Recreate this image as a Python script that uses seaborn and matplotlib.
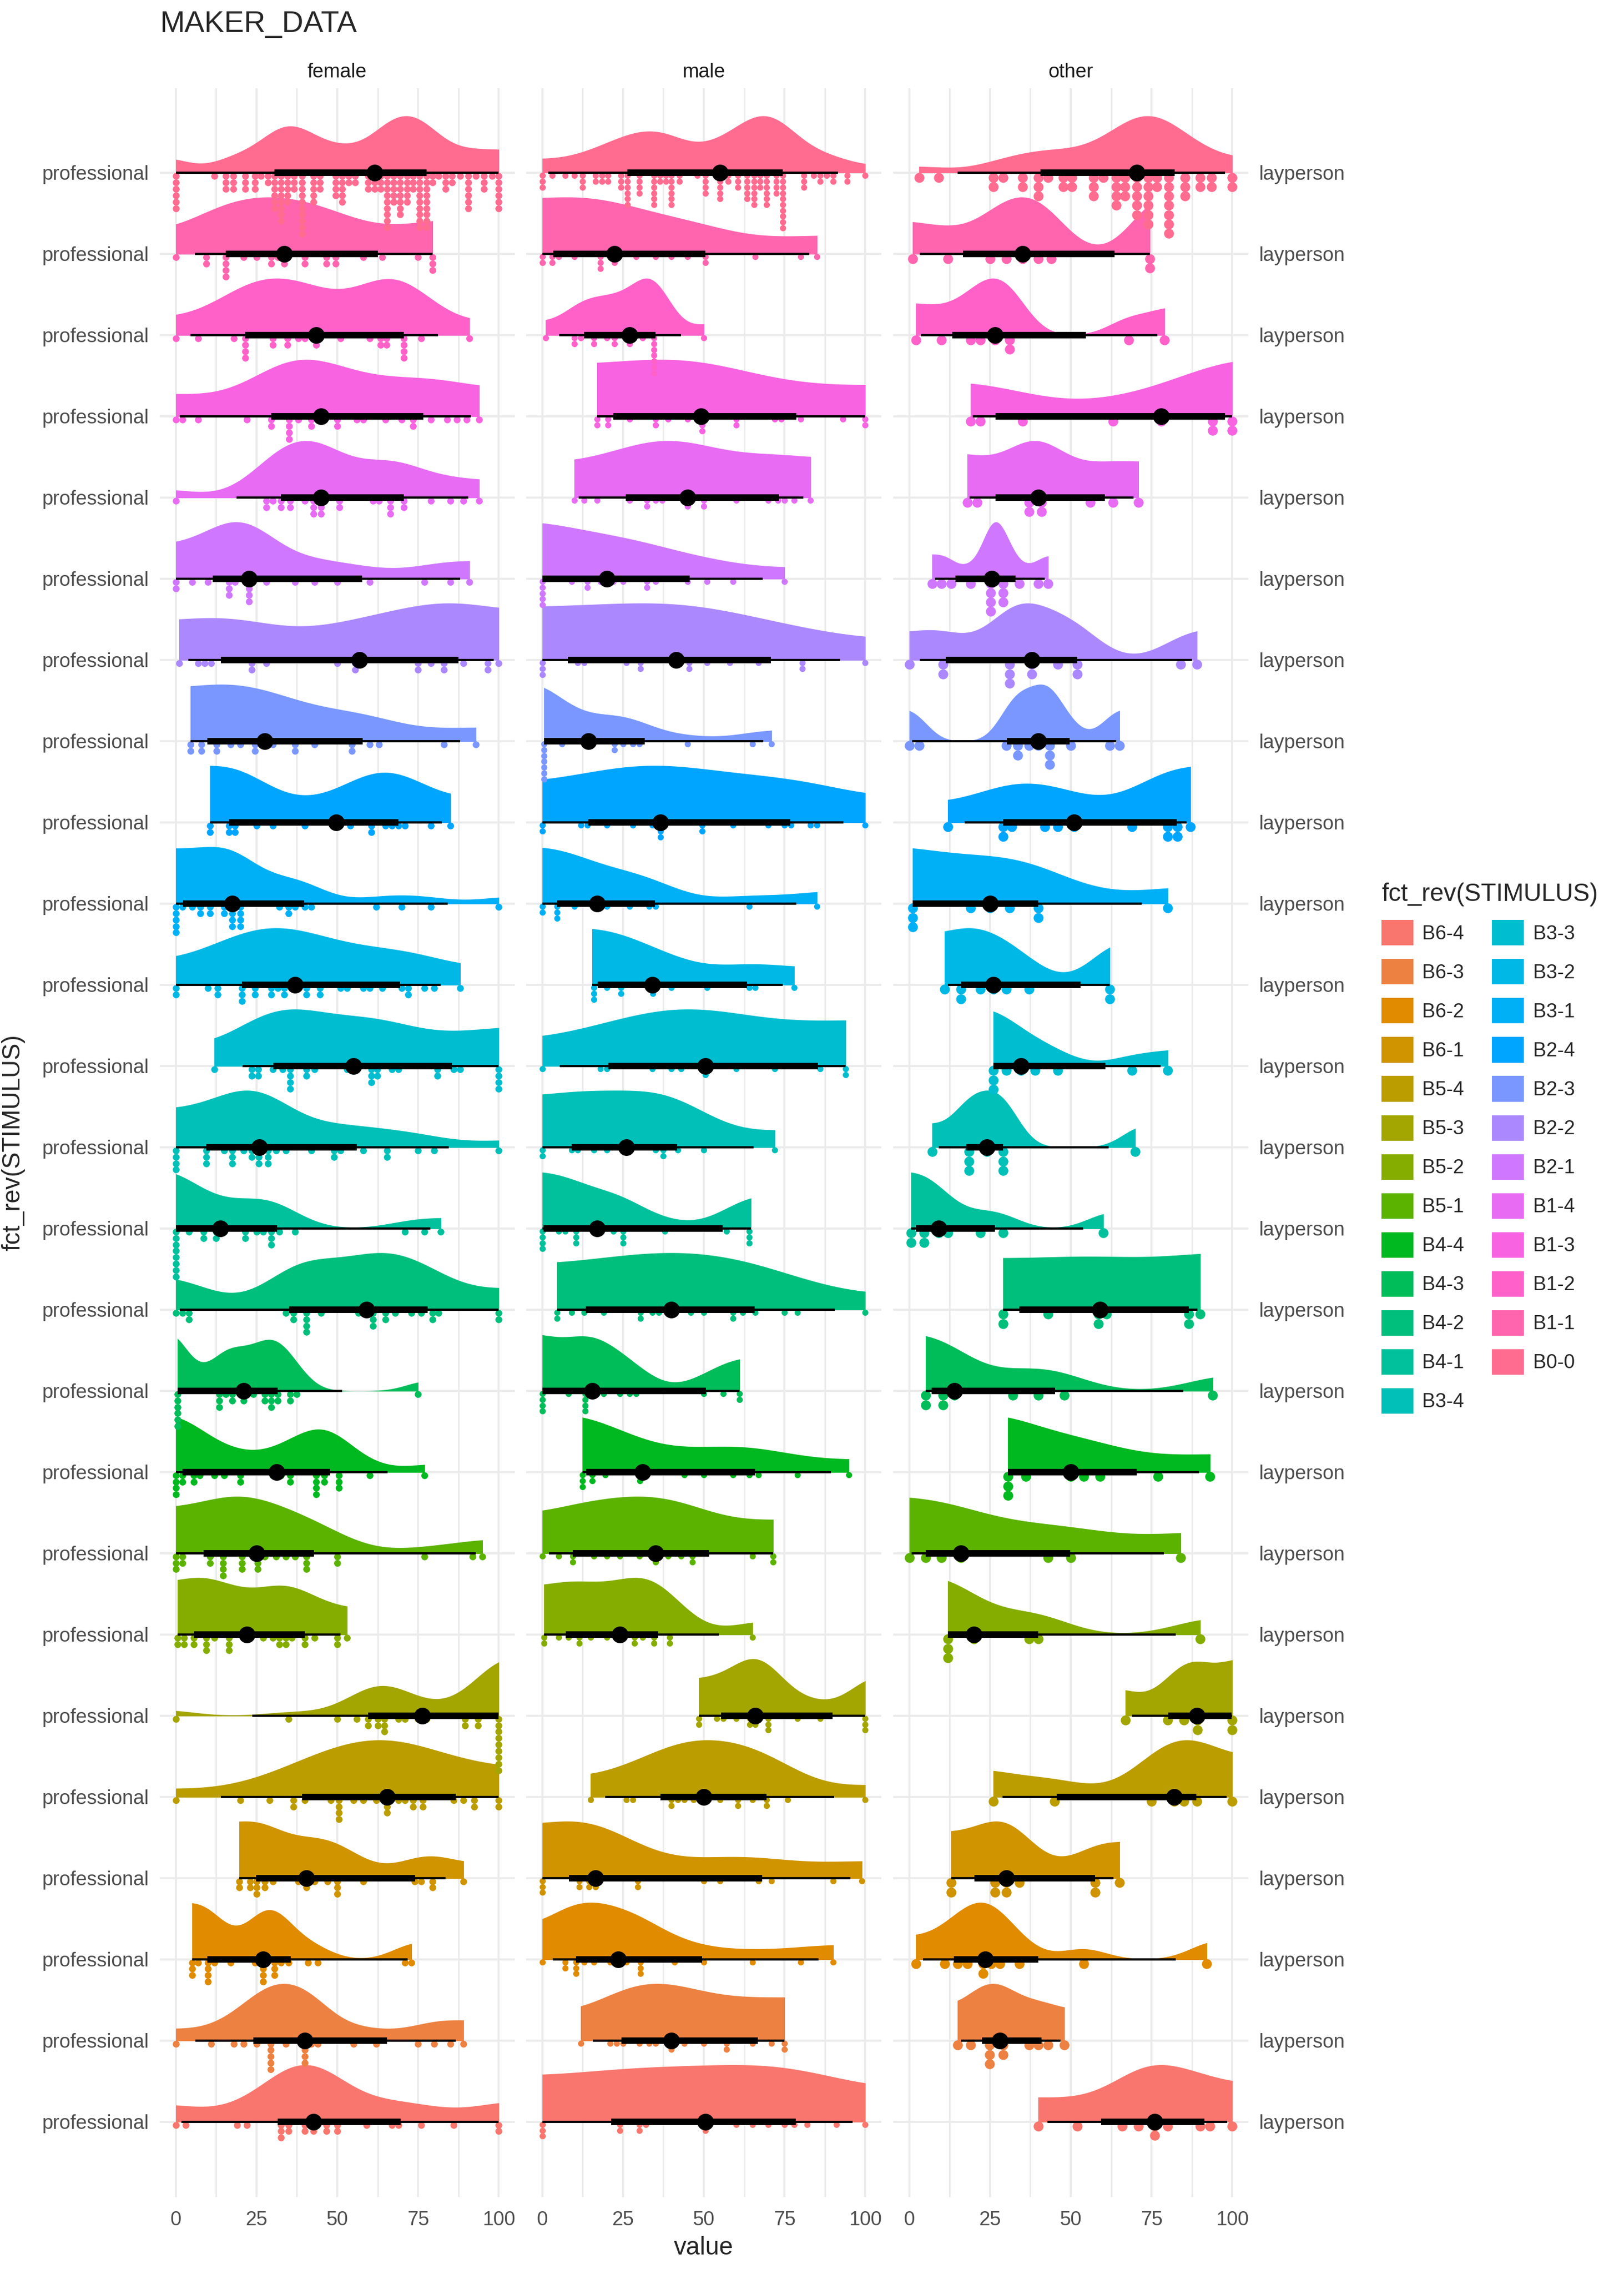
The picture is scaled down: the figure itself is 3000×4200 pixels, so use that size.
import numpy as np
import pandas as pd
import seaborn as sns
import matplotlib
matplotlib.use('Agg')
import matplotlib.pyplot as plt
from matplotlib.patches import Rectangle, Patch

# rows from top to bottom
stimuli = ['B0-0', 'B1-1', 'B1-2', 'B1-3', 'B1-4', 'B2-1', 'B2-2', 'B2-3', 'B2-4',
           'B3-1', 'B3-2', 'B3-3', 'B3-4', 'B4-1', 'B4-2', 'B4-3', 'B4-4',
           'B5-1', 'B5-2', 'B5-3', 'B5-4', 'B6-1', 'B6-2', 'B6-3', 'B6-4']
genders = ['female', 'male', 'other']
x_ticks = [0, 25, 50, 75, 100]

female_b0_0 = [0, 0, 0, 0, 0, 0, 12, 15.4, 15.4, 15.4, 17.3, 17.3, 19, 21.5, 21.5, 21.5,
               24.5, 24.5, 24.5, 26.4, 28.5, 28.5, 30.5, 30.5, 30.5, 30.5, 30.5, 30.5,
               32.5, 32.5, 32.5, 32.5, 32.5, 32.5, 32.5, 32.5, 34.6, 34.6, 34.6, 34.6, 34.6,
               36.6, 36.6, 36.6, 38.5, 38.5, 38.5, 38.5, 38.5, 38.5, 38.5, 40.3, 40.3, 40.3,
               42.6, 42.6, 42.6, 42.6, 42.6, 44.6, 44.6, 44.6, 49.5, 49.5, 49.5, 49.5,
               51.6, 51.6, 51.6, 51.6, 51.6, 53.5, 53.5, 55.6, 55.6, 59.6, 59.6, 59.6,
               61.5, 61.5, 61.5, 63.5, 63.5, 63.5, 65.5, 65.5, 65.5, 65.5, 65.5, 65.5, 65.5,
               65.5, 65.5, 67.5, 67.5, 67.5, 67.5, 67.5, 69.5, 69.5, 69.5, 69.5, 69.5, 69.5,
               69.5, 71.6, 71.6, 71.6, 71.6, 71.6, 73.5, 73.5, 73.5, 75.5, 75.5, 75.5, 75.5,
               75.5, 75.5, 75.5, 75.5, 75.5, 77.6, 77.6, 77.6, 77.6, 77.6, 77.6, 77.6, 77.6,
               77.6, 79.5, 79.5, 81.4, 83.6, 83.6, 83.6, 85.6, 85.6, 88, 90.5, 90.5, 90.5,
               90.5, 90.5, 90.5, 93, 95.5, 95.5, 95.5, 98, 100, 100, 100, 100, 100, 100]
female_b1_1 = [0, 9.5, 9.5, 15.5, 15.5, 15.5, 15.5, 21, 25, 29.5, 29.5, 31.5, 33.5, 33.5,
               40, 40, 46.6, 46.6, 49.5, 49.5, 58, 64, 75, 79.5, 79.5, 79.5]
female_b1_2 = [0, 7, 18, 21.5, 21.5, 21.5, 21.5, 30, 30, 34.6, 34.6, 38, 40, 43.5, 43.5, 51,
               60, 63.4, 63.4, 65.3, 65.3, 70.6, 70.6, 70.6, 70.6, 76, 91]
female_b1_3 = [0, 2, 7, 22, 29.6, 29.6, 34.6, 34.6, 34.6, 36.4, 38, 42, 42, 45, 50, 50, 56,
               58, 65, 70, 73.5, 73.5, 79, 84, 87, 90, 94]
female_b1_4 = [0, 28, 28, 30, 32.5, 32.5, 35.5, 35.5, 40, 42.6, 42.6, 42.6, 45, 45, 45,
               50.6, 50.6, 61, 63, 66.5, 66.5, 66.5, 70.6, 70.6, 79, 85, 89, 94]
female_b2_1 = [0, 0, 5, 10, 16.5, 16.5, 16.5, 18.4, 22.6, 22.6, 22.6, 22.6, 28, 37, 43, 50,
               60, 77, 85, 91]
female_b2_2 = [1, 7, 9, 11, 23.6, 23.6, 28, 50, 55.6, 55.6, 58, 75, 75, 79, 83, 83, 89,
               96.6, 96.6, 100]
female_b2_3 = [4.6, 4.6, 8, 8, 12.6, 12.6, 17, 20, 24.6, 24.6, 27.5, 30, 37, 37, 43, 54.6,
               54.6, 60, 63, 83, 93]
female_b2_4 = [10.6, 10.6, 16.4, 16.4, 18.4, 18.4, 25, 30, 40, 49.7, 54, 60.6, 60.6, 65, 67,
               69, 71, 79, 85]
female_b3_1 = [0, 0, 0, 0, 0, 2, 5, 7.6, 7.6, 10.6, 10.6, 15, 15, 17.5, 17.5, 17.5, 17.5,
               20, 20, 20, 20, 32, 35, 35, 37, 40, 42, 62, 70, 79, 100]
female_b3_2 = [0, 0, 10, 13, 13, 20.5, 20.5, 20.5, 24.6, 24.6, 29.5, 29.5, 31.5, 33.5, 33.5,
               37, 40.5, 40.5, 44.6, 44.6, 51, 53, 58, 60, 64, 70, 72, 72, 77, 80, 88]
female_b3_3 = [12, 23.6, 23.6, 25.6, 25.6, 30, 33, 35.5, 35.5, 35.5, 35.5, 40.5, 40.5, 43,
               53, 55, 60.5, 60.5, 60.5, 62.4, 62.4, 67, 69, 81, 81, 86, 88,
               100, 100, 100, 100]
female_b3_4 = [0, 0, 0, 0, 9.5, 9.5, 9.5, 15, 17.5, 17.5, 17.5, 21, 23.6, 23.6, 25.6, 25.6,
               26, 28.5, 28.5, 28.5, 31, 34, 42, 49, 49, 51, 58, 65.5, 65.5, 75, 80, 100]
female_b4_1 = [0, 0, 0, 0, 0, 0, 0, 0, 4, 8.6, 8.6, 12.5, 12.5, 15, 21.5, 21.5, 25, 27,
               29.5, 29.5, 29.5, 32, 37, 71, 77, 82]
female_b4_2 = [0, 2, 4, 4, 34, 36.5, 36.5, 40.5, 40.5, 40.5, 40.5, 45, 56.6, 59, 61, 61, 61,
               65, 65, 68, 73, 76, 79.5, 79.5, 81.4, 100, 100]
female_b4_3 = [0.5, 0.5, 0.5, 0.5, 0.5, 0.5, 13.5, 13.5, 13.5, 15.5, 17.5, 17.5, 21, 21, 24,
               27.5, 27.5, 29.5, 29.5, 29.5, 31.6, 31.6, 35.5, 35.5, 37.4, 75]
female_b4_4 = [0, 0, 0, 0, 2, 2, 5.5, 5.5, 7.4, 12, 15, 20, 20, 30, 32.6, 35.5, 35.5,
               43.5, 43.5, 43.5, 43.5, 46, 46, 50.5, 50.5, 50.5, 60, 77]
female_b5_1 = [0, 0, 0, 2, 2, 10.6, 10.6, 14.6, 14.6, 14.6, 14.6, 20.5, 20.5, 20.5, 25,
               25.5, 25.5, 27.5, 31, 34, 37, 40.5, 40.5, 40.5, 50, 50, 77, 92, 95]
female_b5_2 = [0.5, 0.5, 2.5, 2.5, 5.5, 5.5, 9.5, 9.5, 9.5, 12, 16.5, 16.5, 16.5, 21, 23,
               27, 30, 32, 32, 34, 34, 36, 40, 40, 43, 50, 50, 53]
female_b5_3 = [0, 35, 50, 56, 59.6, 59.6, 62.6, 62.6, 64.6, 64.6, 64.6, 69, 71, 75, 77.6,
               89.6, 89.6, 93.6, 93.6, 100, 100, 100, 100, 100, 100, 100, 100, 100]
female_b5_4 = [0, 20, 29, 36.5, 36.5, 40, 48, 50.5, 50.5, 50.5, 50.5, 55, 58, 62, 65.5, 65.5,
               65.5, 69, 71, 73.5, 73.5, 76.5, 76.5, 86, 89, 92.5, 92.5, 100, 100]
female_b6_1 = [19.6, 19.6, 23, 23, 25, 25, 25, 27.5, 27.5, 30, 38, 40.5, 40.5, 43, 47, 50,
               50, 50, 58, 74, 76, 79.5, 79.5, 89]
female_b6_2 = [5, 5, 5, 7, 10, 10, 10, 10, 12, 17, 24.6, 27, 27, 27, 27, 30.6, 30.6, 30.6,
               32.5, 35, 41, 44, 71, 73]
female_b6_3 = [0, 11, 18, 21, 25, 28.4, 28.4, 30, 30, 30, 34, 40, 40, 40, 40, 42, 44, 55, 62,
               75, 80, 85, 89]
female_b6_4 = [0, 3, 19, 22, 32.5, 32.5, 32.5, 35, 35, 40, 40, 42.6, 42.6, 46.6, 46.6, 50, 50,
               59, 67, 69, 76, 86, 100, 100]

male_b0_0 = [0, 0, 0, 3, 7, 10, 12.5, 12.5, 12.5, 16.5, 16.5, 18.4, 18.4, 20.4, 20.4,
             24.4, 24.4, 24.4, 26.4, 26.4, 26.4, 26.4, 26.4, 26.4, 30, 30, 30, 30,
             34.5, 34.5, 34.5, 34.5, 34.5, 34.5, 36.4, 36.4, 38.3, 38.3, 40, 40, 40, 40, 40, 40,
             42.5, 42.5, 48, 50.5, 50.5, 50.5, 50.5, 55, 55, 55, 55, 55, 57.5, 57.5,
             60.5, 60.5, 60.5, 63.4, 63.4, 63.4, 63.4, 63.4, 65.5, 65.5, 65.5, 65.5, 65.5, 65.5,
             67.4, 67.4, 67.4, 69.4, 69.4, 69.4, 69.4, 69.4, 69.4, 72.5, 72.5, 72.5, 72.5,
             74.4, 74.4, 74.4, 74.4, 74.4, 74.4, 74.4, 74.4, 74.4, 74.4, 80.4, 80.4, 82, 84,
             86, 86, 88, 90, 90, 94.5, 94.5, 100]
male_b1_1 = [0, 0, 3, 3, 5, 10, 18, 18, 18, 22.4, 22.4, 29, 35, 40, 45, 50.5, 50.5, 66, 80, 85]
male_b1_2 = [1, 10, 10, 12, 16, 16, 20, 22.4, 22.4, 27, 27, 31, 33.4, 33.4, 35, 35, 35, 35, 35,
             50]
male_b1_3 = [17, 17, 20.4, 20.4, 27, 35, 35, 39, 45, 48.4, 50, 50, 60, 60, 72, 74, 80, 93,
             100, 100]
male_b1_4 = [10, 13, 17, 27, 32.4, 32.4, 35, 37, 45, 45, 50, 50, 60, 70, 73, 75, 78, 83]
male_b2_1 = [0, 0, 0, 0, 0, 9, 14, 14, 18, 22, 25, 32.4, 32.4, 35, 45, 51, 59, 75]
male_b2_2 = [0, 0, 0, 11, 13, 26, 30.4, 30.4, 41.4, 45.5, 45.5, 51, 58, 67, 80.5, 80.5, 100]
male_b2_3 = [0.5, 0.5, 0.5, 0.5, 0.5, 0.5, 0.5, 6, 13, 15.5, 22.4, 22.4, 25, 28, 30, 45, 65,
             71]
male_b2_4 = [0, 0, 12, 14, 20, 28, 34, 36.5, 36.5, 36.5, 49.5, 49.5, 59, 70, 75, 77, 83, 85,
             100]
male_b3_1 = [0, 0, 4.5, 4.5, 4.5, 10, 17, 20, 27, 33, 35, 64, 85]
male_b3_2 = [15.4, 15.4, 17, 20, 24.4, 24.4, 34, 34.5, 40, 51, 64, 66, 78]
male_b3_3 = [0, 18, 20, 34, 40, 43, 50.5, 50.5, 60, 72, 86, 94, 94]
male_b3_4 = [0, 0, 9, 11, 16, 20, 26, 35, 37.5, 37.5, 42, 50, 72]
male_b4_1 = [0, 0, 0, 0, 5, 7, 10.4, 10.4, 10.4, 17, 22, 24.4, 24.4, 26, 38, 57, 63, 64.5,
             64.5]
male_b4_2 = [4.5, 4.5, 9, 13, 19, 30.4, 30.4, 34, 36, 40, 46, 50, 59, 59, 62, 66, 75, 79, 100]
male_b4_3 = [0, 0, 0, 0, 8, 12.5, 12.5, 14, 14, 17, 19, 24, 27, 29, 50, 56, 61, 61]
male_b4_4 = [12.5, 12.5, 12.5, 15.4, 15.4, 19.4, 29.4, 31, 44, 50, 59, 64, 67, 79, 95]
male_b5_1 = [0, 5, 9.5, 9.5, 16, 20, 24, 30, 35, 35, 39, 43, 46.5, 46.5, 65, 71.5, 71.5]
male_b5_2 = [0.5, 0.5, 5, 8, 11.4, 11.4, 15, 20, 24, 28.5, 28.5, 31, 34.5, 34.5, 39.4, 39.4,
             65]
male_b5_3 = [48.4, 48.4, 54, 56, 60, 64.3, 64.3, 66, 66, 70, 70, 70, 79, 86, 100, 100, 100]
male_b5_4 = [15, 26, 28, 40, 40, 42, 44, 46.8, 50, 55, 60.5, 60.5, 65, 69.5, 69.5, 76, 100]
male_b6_1 = [0, 0, 0, 11.4, 11.4, 14.4, 14.4, 16.5, 16.5, 29.5, 29.5, 50, 55, 67, 71, 90, 99]
male_b6_2 = [0, 7, 7, 10.4, 10.4, 10.4, 13, 16, 21, 23.5, 26, 30.4, 30.4, 30.4, 41, 50, 65,
             80, 90]
male_b6_3 = [12, 21, 23, 25, 30, 33, 35, 40, 40, 44, 50, 57, 57, 65, 71, 75, 75]
male_b6_4 = [0, 0, 0, 24, 24, 30, 30, 32, 50.5, 50.5, 60, 65, 70, 75, 78, 82, 91, 100]

other_b0_0 = [3, 9, 26, 26, 29, 35, 35, 40, 40, 40, 43, 47.6, 47.6, 50.4, 50.4, 57, 57, 57,
              60, 64, 64, 64, 64, 66.8, 66.8, 66.8, 70.5, 70.5, 70.5, 70.5, 70.5,
              74, 74, 74, 74, 74, 74, 76.7, 76.7, 80, 80, 80, 80, 80, 80, 82.6,
              85.4, 85.4, 85.4, 90, 90, 93.5, 93.5, 100, 100]
other_b1_1 = [1, 12, 25, 30, 35, 40, 44, 74.5, 74.5]
other_b1_2 = [2, 10, 19, 22, 26.5, 31, 31, 68, 79]
other_b1_3 = [19, 22, 35, 63, 78, 94, 94, 100, 100]
other_b1_4 = [18, 21, 37, 37, 40, 42, 56, 63, 71]
other_b2_1 = [7, 10, 13, 19, 25, 25, 25, 26, 29, 29, 29, 34, 40, 43]
other_b2_2 = [0, 10.5, 10.5, 31, 31, 31, 38, 38, 46, 52, 52, 84, 89]
other_b2_3 = [0, 3, 30, 33.5, 33.5, 37, 40, 43.5, 43.5, 43.5, 50, 62, 65]
other_b2_4 = [12, 29, 29, 31.7, 42, 46, 51, 69, 80, 80, 83, 83, 87]
other_b3_1 = [1, 1, 1, 19, 25, 31, 40, 40, 80]
other_b3_2 = [11, 16, 16, 22, 26, 30, 37, 62, 62]
other_b3_3 = [26, 26, 26, 30, 34.5, 39, 46, 69, 80]
other_b3_4 = [7, 17.6, 17.6, 20, 24, 29, 29, 29, 70]
other_b4_1 = [0.6, 0.6, 4.6, 4.6, 9, 12, 22, 29, 60]
other_b4_2 = [29, 29, 43, 58, 59, 61, 86.5, 86.5, 90]
other_b4_3 = [5, 5, 10.5, 10.5, 14, 32, 40, 48, 94]
other_b4_4 = [30.5, 30.5, 30.5, 36, 50, 54, 59, 77, 93]
other_b5_1 = [0, 5, 10, 16, 43, 50, 84]
other_b5_2 = [12, 12, 12, 20, 37, 40, 90]
other_b5_3 = [67, 80, 85, 89, 89.5, 100, 100]
other_b5_4 = [26, 45, 75, 82, 85, 89, 100]
other_b6_1 = [13, 13, 26.5, 26.5, 30, 30, 34, 57.5, 57.5, 65]
other_b6_2 = [2, 11, 15, 18, 22, 23.5, 25.3, 28, 34, 54, 92]
other_b6_3 = [15, 19, 24, 24, 26.5, 28, 30, 37, 40, 43, 48]
other_b6_4 = [40, 52, 66, 71, 76, 76, 80, 90, 93, 100]

# dot width (in value units) differs per facet, as in the original
dot_binwidth = {'female': 2.0, 'male': 1.8, 'other': 2.9}


def hcl_hex(h, c=100, l=65):
    # polar LUV -> sRGB, same as R's hcl()
    u_n, v_n = 0.1978398, 0.4683363
    U = c * np.cos(np.radians(h))
    V = c * np.sin(np.radians(h))
    Y = ((l + 16) / 116) ** 3 if l > 7.999592 else l / 903.3
    u = U / (13 * l) + u_n
    v = V / (13 * l) + v_n
    X = 9.0 * Y * u / (4 * v)
    Z = -X / 3 - 5 * Y + 3 * Y / v
    rgb = [3.240479 * X - 1.537150 * Y - 0.498535 * Z,
           -0.969256 * X + 1.875992 * Y + 0.041556 * Z,
           0.055648 * X - 0.204043 * Y + 1.057311 * Z]
    out = []
    for t in rgb:
        t = 1.055 * t ** (1 / 2.4) - 0.055 if t > 0.00304 else 12.92 * t
        out.append(int(round(min(max(t, 0), 1) * 255)))
    return '#%02X%02X%02X' % tuple(out)


def robust_scale(x):
    sd = np.std(x, ddof=1)
    iqr = np.subtract(*np.percentile(x, [75, 25]))
    return min(sd, iqr / 1.349) if iqr > 0 else sd


def bw_dpi(x):
    # Sheather-Jones direct plug-in bandwidth (R's bw.SJ(method = "dpi"))
    x = np.asarray(x, dtype=float)
    n = len(x)
    scale = robust_scale(x)
    diffs = (x[:, None] - x[None, :])[np.triu_indices(n, 1)]

    def phi4(h):
        d2 = (diffs / h) ** 2
        s = 2 * np.sum(np.exp(-d2 / 2) * (d2 ** 2 - 6 * d2 + 3)) + 3 * n
        return s / (n * (n - 1) * h ** 5 * np.sqrt(2 * np.pi))

    def phi6(h):
        d2 = (diffs / h) ** 2
        s = 2 * np.sum(np.exp(-d2 / 2) * (d2 ** 3 - 15 * d2 ** 2 + 45 * d2 - 15)) - 15 * n
        return s / (n * (n - 1) * h ** 7 * np.sqrt(2 * np.pi))

    fallback = 0.9 * scale * n ** -0.2
    td = -phi6(1.23 * scale * n ** (-1 / 9))
    if not td > 0:
        return fallback
    sd4 = phi4((2.394 / (n * td)) ** (1 / 7))
    if not sd4 > 0:
        return fallback
    return (1 / (2 * np.sqrt(np.pi) * n) / sd4) ** 0.2


def stack_dots(vals, binwidth):
    vals = np.sort(vals)
    xs, ks = [], []
    group = [vals[0]]
    for v in vals[1:]:
        if v - group[0] >= binwidth * 0.9:
            xs += [np.mean(group)] * len(group)
            ks += list(range(len(group)))
            group = []
        group.append(v)
    xs += [np.mean(group)] * len(group)
    ks += list(range(len(group)))
    return np.array(xs), np.array(ks)


# long table
rows = []
for g in genders:
    for s in stimuli:
        for v in globals()[g + '_' + s.lower().replace('-', '_')]:
            rows.append((g, s, v))
df = pd.DataFrame(rows, columns=['gender', 'STIMULUS', 'value'])

# ggplot default hue palette, levels are fct_rev(STIMULUS)
levels = stimuli[::-1]
palette = {s: hcl_hex(15 + 14.4 * i) for i, s in enumerate(levels)}

sns.set_theme(style='whitegrid')
plt.rcParams['font.family'] = ['Liberation Sans', 'DejaVu Sans']

fig = plt.figure(figsize=(10, 14), dpi=300)
fig.patch.set_facecolor('white')
panel_px_w = 656
row_px = 150
axes = [fig.add_axes([left, 0.0338, 0.2187, 0.9274]) for left in (0.0983, 0.324, 0.550)]

for ax, g in zip(axes, genders):
    sub = df[df['gender'] == g]
    bw_dot = dot_binwidth[g]
    dot_px = bw_dot * panel_px_w / 110
    dot_step = dot_px / row_px
    dot_s = (dot_px * 1.06 * 72 / 300) ** 2

    for pos, s in enumerate(stimuli):
        vals = sub.loc[sub['STIMULUS'] == s, 'value'].to_numpy(dtype=float)
        col = palette[s]
        lo, hi = vals.min(), vals.max()

        # bounded density: reflect just outside the data range, keep the upper half
        bw = bw_dpi(vals)
        pad = 0.5 * bw
        aug = np.concatenate([vals, 2 * (lo - pad) - vals, 2 * (hi + pad) - vals])
        n_before = len(ax.collections)
        sns.violinplot(x=aug, y=np.full(aug.size, float(pos)), orient='y', native_scale=True,
                       cut=0, bw_method=bw / np.std(aug, ddof=1), gridsize=400,
                       density_norm='width', inner=None, linewidth=0, color=col,
                       saturation=1, width=1.4, ax=ax)
        for coll in ax.collections[n_before:]:
            coll.set_clip_path(Rectangle((lo, pos - 1.5), hi - lo, 1.5, transform=ax.transData))
            coll.set_zorder(1)

        # dots stacked below the baseline
        xs, ks = stack_dots(vals, bw_dot)
        ax.scatter(xs, pos + (ks + 0.5) * dot_step, s=dot_s, color=col, linewidths=0, zorder=2)

        # median with 66% and 95% intervals
        q = np.quantile(vals, [0.025, 0.17, 0.5, 0.83, 0.975])
        ax.plot([q[0], q[4]], [pos, pos], color='black', lw=1.0, solid_capstyle='butt', zorder=3)
        ax.plot([q[1], q[3]], [pos, pos], color='black', lw=2.9, solid_capstyle='butt', zorder=3)
        ax.plot(q[2], pos, 'o', color='black', ms=7.4, mew=0, zorder=4)

    ax.set_xlim(-5, 105)
    ax.set_ylim(24.93, -1.04)
    ax.set_xticks(x_ticks)
    ax.set_xticks([12.5, 37.5, 62.5, 87.5], minor=True)
    ax.set_yticks(range(len(stimuli)))
    ax.set_xticklabels([str(t) for t in x_ticks])
    ax.grid(which='major', color='#EBEBEB', lw=0.9)
    ax.grid(which='minor', axis='x', color='#EBEBEB', lw=0.7)
    ax.set_axisbelow(True)
    ax.set_facecolor('white')
    for sp in ax.spines.values():
        sp.set_visible(False)
    ax.tick_params(which='both', length=0, labelsize=8.8, labelcolor='#4D4D4D')
    ax.tick_params(axis='x', pad=6)
    ax.tick_params(axis='y', pad=4.6)
    ax.set_xlabel('')
    ax.set_ylabel('')
    if g == 'female':
        ax.set_yticklabels(['professional'] * len(stimuli))
    else:
        ax.tick_params(axis='y', labelleft=False)
    ax.text(0.5, 1 + 29 / 3895, g, transform=ax.transAxes, ha='center', va='center',
            fontsize=8.8, color='#1A1A1A')

# secondary labels on the right
sec = axes[2].secondary_yaxis('right')
sec.set_yticks(range(len(stimuli)))
sec.set_yticklabels(['layperson'] * len(stimuli))
sec.tick_params(length=0, pad=4.6, labelsize=8.8, labelcolor='#4D4D4D')
for sp in sec.spines.values():
    sp.set_visible(False)

fig.text(295 / 3000, 1 - 45 / 4200, 'MAKER_DATA', ha='left', va='center', fontsize=13.2)
fig.text(1300 / 3000, 1 - 4152 / 4200, 'value', ha='center', va='center', fontsize=11)
fig.text(24 / 3000, 1 - 2110 / 4200, 'fct_rev(STIMULUS)', ha='center', va='center',
         rotation=90, fontsize=11)

handles = [Patch(facecolor=palette[s], edgecolor='none') for s in levels]
fig.legend(handles, levels, ncol=2, title='fct_rev(STIMULUS)', loc='upper left',
           bbox_to_anchor=(2534 / 3000, 1 - 1612 / 4200), frameon=False, fontsize=8.8,
           title_fontsize=11, handlelength=1.6, handleheight=1.6, labelspacing=0.68,
           handletextpad=0.45, columnspacing=1.4, borderpad=0, alignment='left')

fig.savefig('out.png', dpi=300)
